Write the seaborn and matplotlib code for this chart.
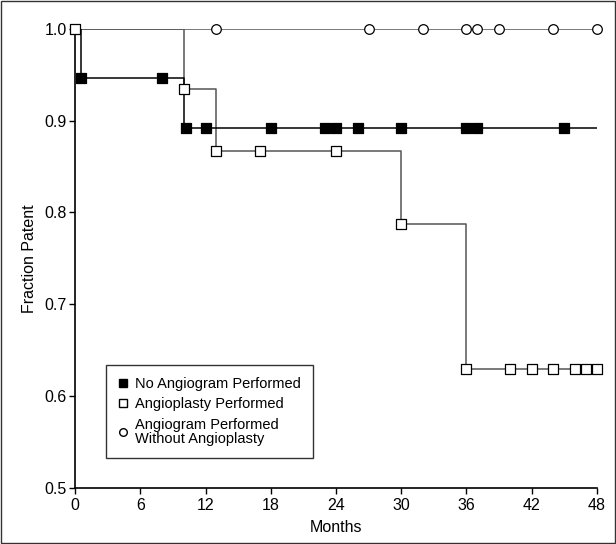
import numpy as np
import pandas as pd
import seaborn as sns
import matplotlib.pyplot as plt
from matplotlib.patches import Rectangle

# --- dane ---
# brak angiografii: czasy zdarzen i wartosci krzywej schodkowej
no_angio_t = [0, 0.5, 10, 48]
no_angio_s = [1.0, 0.947, 0.892, 0.892]
no_angio_cens = [0.5, 8, 10.2, 12, 18, 23, 24, 26, 30, 36, 37, 45]

# angioplastyka
plasty_t = [0, 10, 13, 30, 36, 48]
plasty_s = [1.0, 0.934, 0.867, 0.787, 0.63, 0.63]
plasty_cens = [0, 10, 13, 17, 24, 30, 36, 40, 42, 44, 46, 47, 48]

# angiografia bez angioplastyki
gram_t = [0, 48]
gram_s = [1.0, 1.0]
gram_cens = [13, 27, 32, 36, 37, 39, 44, 48]

x_ticks = [0, 6, 12, 18, 24, 30, 36, 42, 48]
y_ticks = [0.5, 0.6, 0.7, 0.8, 0.9, 1.0]


def step_value(t_events, s_events, t):
    idx = np.searchsorted(t_events, t, side="right") - 1
    return np.asarray(s_events)[idx]


sns.set_theme(style="ticks")
plt.rcParams['font.family'] = ['Liberation Sans', 'DejaVu Sans']
plt.rcParams['text.color'] = 'black'
plt.rcParams['axes.labelcolor'] = 'black'

fig, ax = plt.subplots(figsize=(6.16, 5.44), dpi=100)
fig.subplots_adjust(left=0.122, right=0.969, bottom=0.103, top=0.947)

GRAY = "#555555"

# linie schodkowe
sns.lineplot(x=gram_t, y=gram_s, ax=ax, color=GRAY, lw=1.1, drawstyle="steps-post")
sns.lineplot(x=plasty_t, y=plasty_s, ax=ax, color=GRAY, lw=1.1, drawstyle="steps-post")
sns.lineplot(x=no_angio_t, y=no_angio_s, ax=ax, color="black", lw=1.1, drawstyle="steps-post")

# znaczniki obserwacji
df_gram = pd.DataFrame({"t": gram_cens, "s": step_value(gram_t, gram_s, gram_cens)})
df_plasty = pd.DataFrame({"t": plasty_cens, "s": step_value(plasty_t, plasty_s, plasty_cens)})
df_no = pd.DataFrame({"t": no_angio_cens, "s": step_value(no_angio_t, no_angio_s, no_angio_cens)})

sns.scatterplot(data=df_gram, x="t", y="s", ax=ax, marker="o", s=48,
                facecolor="white", edgecolor="black", linewidth=0.9, zorder=5, clip_on=False)
sns.scatterplot(data=df_plasty, x="t", y="s", ax=ax, marker="s", s=42,
                facecolor="white", edgecolor="black", linewidth=0.9, zorder=6, clip_on=False)
sns.scatterplot(data=df_no, x="t", y="s", ax=ax, marker="s", s=42,
                facecolor="black", edgecolor="black", linewidth=0.9, zorder=7, clip_on=False)

ax.set_xlim(0, 48)
ax.set_ylim(0.5, 1.0)
ax.set_xticks(x_ticks)
ax.set_yticks(y_ticks)
ax.set_yticklabels([f"{v:.1f}" for v in y_ticks])
ax.set_xlabel("Months", fontsize=11.5, labelpad=5)
ax.set_ylabel("Fraction Patent", fontsize=11.5, labelpad=5)
ax.tick_params(labelsize=11.5, length=4, width=1, color="black", labelcolor="black", pad=2)
ax.tick_params(axis="x", pad=3)
for side in ["top", "right"]:
    ax.spines[side].set_visible(False)
for side in ["left", "bottom"]:
    ax.spines[side].set_color("black")
    ax.spines[side].set_linewidth(1.2)

# legenda
handles = [
    plt.Line2D([], [], ls="none", marker="s", ms=5.5, mfc="black", mec="black"),
    plt.Line2D([], [], ls="none", marker="s", ms=5.5, mfc="white", mec="black"),
    plt.Line2D([], [], ls="none", marker="o", ms=5.5, mfc="white", mec="black"),
]
labels = ["No Angiogram Performed", "Angioplasty Performed",
          "Angiogram Performed\nWithout Angioplasty"]
leg = ax.legend(handles, labels, loc="lower left", bbox_to_anchor=(0.045, 0.05),
                fontsize=10.5, frameon=True, fancybox=False, handletextpad=0.4,
                handlelength=0.8, borderpad=0.8, labelspacing=0.45)
leg.get_frame().set_edgecolor("black")
leg.get_frame().set_linewidth(1.0)
for txt in leg.get_texts():
    txt.set_linespacing(1.0)

# ramka wokol calej figury
fig.patches.append(Rectangle((0.002, 0.002), 0.996, 0.996, transform=fig.transFigure,
                             fill=False, edgecolor="#333333", linewidth=1.0))

fig.savefig("out.png", dpi=100)
